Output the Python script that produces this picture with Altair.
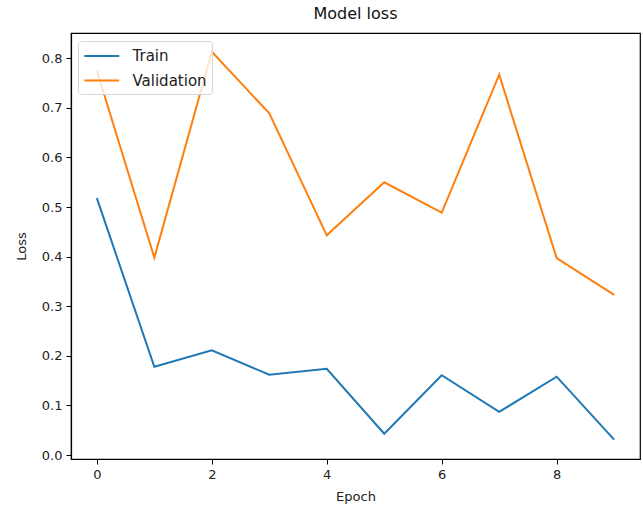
import altair as alt
import pandas as pd

epochs = [0, 1, 2, 3, 4, 5, 6, 7, 8, 9]
train_loss = [0.518, 0.178, 0.211, 0.162, 0.174, 0.043, 0.161, 0.087, 0.158, 0.031]
val_loss = [0.775, 0.398, 0.813, 0.689, 0.443, 0.550, 0.489, 0.767, 0.397, 0.323]
series = ["Train", "Validation"]
colors = ["#1f77b4", "#ff7f0e"]

df = pd.DataFrame({
    "epoch": epochs * 2,
    "loss": train_loss + val_loss,
    "series": [series[0]] * len(epochs) + [series[1]] * len(epochs),
})

FONT = "DejaVu Sans"

# Horizontal dash glyph for the legend: starts at the symbol's left edge and
# runs twice the symbol box width, so rows stay compact.
LEGEND_DASH = "M-1,0H3"

chart = (
    alt.Chart(df)
    .mark_line(strokeWidth=2, clip=True)
    .encode(
        x=alt.X(
            "epoch:Q",
            title="Epoch",
            scale=alt.Scale(domain=[-0.45, 9.45], nice=False, zero=False),
            axis=alt.Axis(values=[0, 2, 4, 6, 8], format="d", grid=False,
                          titlePadding=9),
        ),
        y=alt.Y(
            "loss:Q",
            title="Loss",
            scale=alt.Scale(domain=[-0.008, 0.851], nice=False, zero=False),
            axis=alt.Axis(values=[0, 0.1, 0.2, 0.3, 0.4, 0.5, 0.6, 0.7, 0.8],
                          format=".1f", grid=False, titlePadding=13),
        ),
        color=alt.Color(
            "series:N",
            scale=alt.Scale(domain=series, range=colors),
            legend=alt.Legend(
                title=None,
                orient="none",
                legendX=7,
                legendY=8,
                symbolType=LEGEND_DASH,
                symbolSize=306,
                symbolStrokeWidth=2,
                symbolOffset=0,
                labelOffset=29.5,
                labelFontSize=15,
                labelFont=FONT,
                labelColor="#222222",
                rowPadding=6.5,
                padding=5,
                fillColor="rgba(255,255,255,0.8)",
                strokeColor="#d8d8d8",
                cornerRadius=3,
            ),
        ),
        order="epoch:Q",
    )
    .properties(
        width=569,
        height=426,
        title=alt.TitleParams("Model loss", fontSize=16, font=FONT,
                              fontWeight="normal", color="#111111", offset=11),
        padding={"left": 71, "top": 33, "right": 3, "bottom": 50},
        autosize=alt.AutoSizeParams(type="none"),
        background="white",
    )
    .configure_view(stroke="#000000", strokeWidth=1.2)
    .configure_axis(
        domainColor="#000000",
        domainWidth=1.2,
        tickColor="#000000",
        tickSize=5,
        labelFont=FONT,
        labelFontSize=13,
        labelColor="#222222",
        titleFont=FONT,
        titleFontSize=13,
        titleFontWeight="normal",
        titleColor="#222222",
        labelPadding=4,
    )
)

chart.save("out.html", embed_options={"renderer": "svg", "actions": False})
